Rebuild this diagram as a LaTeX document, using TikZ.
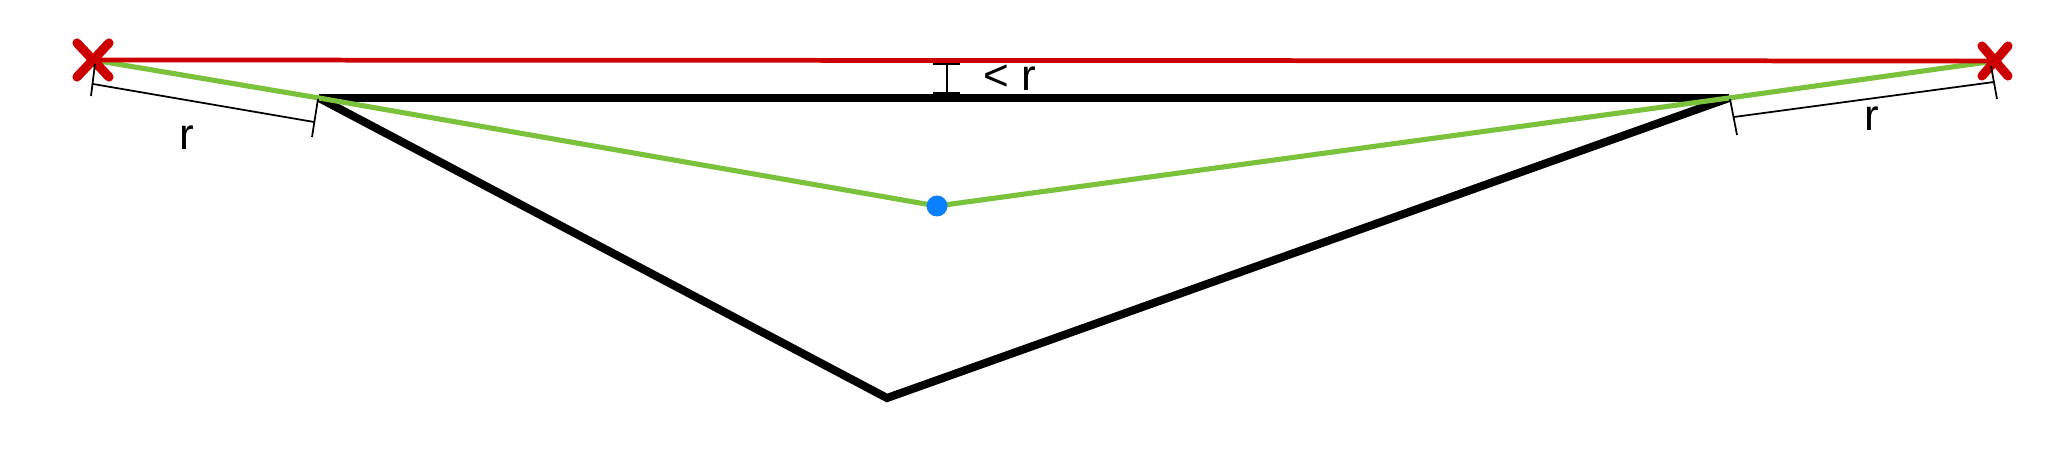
\documentclass[tikz,border=0pt]{standalone}
\usepackage{fontspec}
\setmainfont{Liberation Sans}
\usetikzlibrary{calc}
\begin{document}
\begin{tikzpicture}[x=0.01cm,y=-0.01cm,
  blackline/.style={line width=2.3pt, line join=miter, line cap=butt},
  redline/.style={draw=xred, line width=1.35pt},
  greenline/.style={draw=xgreen, line width=1.45pt, line join=round},
  crossmark/.style={draw=xred, line width=2.6pt, line cap=round},
  dimline/.style={draw=black, line width=0.5pt},
  lbl/.style={font=\fontsize{12.5}{14}\selectfont, inner sep=0pt},
  dotmark/.style={fill=xblue, draw=none}
]
\definecolor{xred}{RGB}{204,0,0}
\definecolor{xgreen}{RGB}{122,194,60}
\definecolor{xblue}{RGB}{10,128,255}
\useasboundingbox (0,0) rectangle (2048,458);
% main points
\coordinate (A) at (93,60);
\coordinate (E) at (1995,61);
\coordinate (B) at (319,98);
\coordinate (D) at (1729,98);
\coordinate (F) at (887,398);
\coordinate (C) at (937,206);
% black triangle
\draw[blackline] (B) -- (D);
\draw[blackline] (B) -- (F) -- (D);
% green path
\draw[greenline] (A) -- (B) -- (C) -- (D) -- (E);
% red line
\draw[redline] (A) -- (E);
% crosses
\draw[crossmark] ($(A)+(-16,-17)$) -- ($(A)+(16,17)$);
\draw[crossmark] ($(A)+(16,-17)$) -- ($(A)+(-16,17)$);
\draw[crossmark] ($(E)+(-13,-15)$) -- ($(E)+(13,15)$);
\draw[crossmark] ($(E)+(13,-15)$) -- ($(E)+(-13,15)$);
% blue dot
\fill[dotmark] (C) circle[radius=10.5];
% < r dimension
\coordinate (ht) at (947,64);
\coordinate (hb) at (947,93);
\draw[dimline] (ht) -- (hb);
\draw[dimline] (933,64) -- (960,64);
\draw[dimline] (933,93) -- (960,93);
\node[lbl, anchor=west] (lr) at (983,78) {< r};
% left r dimension
\coordinate (l1a) at (95,64);
\coordinate (l1b) at (91,96);
\coordinate (l2a) at (318,99);
\coordinate (l2b) at (312,137);
\coordinate (ld1) at (93,84);
\coordinate (ld2) at (314,122);
\draw[dimline] (l1a) -- (l1b);
\draw[dimline] (l2a) -- (l2b);
\draw[dimline] (ld1) -- (ld2);
\node[lbl] (rl) at (187,138) {r};
% right r dimension
\coordinate (r1a) at (1730,99);
\coordinate (r1b) at (1737,135);
\coordinate (r2a) at (1991,66);
\coordinate (r2b) at (1997,99);
\coordinate (rd1) at (1734,117);
\coordinate (rd2) at (1994,82);
\draw[dimline] (r1a) -- (r1b);
\draw[dimline] (r2a) -- (r2b);
\draw[dimline] (rd1) -- (rd2);
\node[lbl] (rr) at (1872,119) {r};
\end{tikzpicture}
\end{document}
